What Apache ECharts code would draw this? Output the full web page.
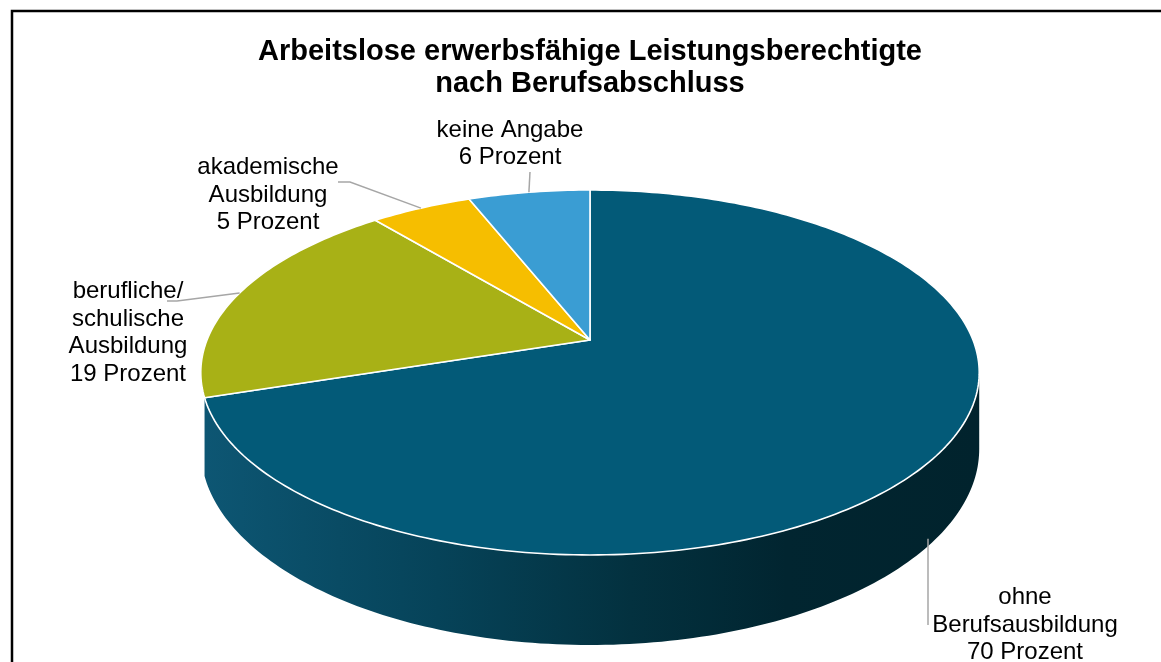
<!DOCTYPE html>
<html>
<head>
<meta charset="utf-8">
<script src="https://cdn.jsdelivr.net/npm/echarts@6/dist/echarts.min.js"></script>
<style>
  html, body { margin: 0; padding: 0; background: #fff; }
  #chart { width: 1161px; height: 662px; }
</style>
</head>
<body>
<div id="chart"></div>
<script>
// data, in clockwise order from 12 o'clock
var categories = ['ohne\nBerufsausbildung', 'berufliche/\nschulische\nAusbildung', 'akademische\nAusbildung', 'keine Angabe'];
var percentValues = [70, 19, 5, 6];
var unitText = 'Prozent';
var chartTitle = 'Arbeitslose erwerbsfähige Leistungsberechtigte\nnach Berufsabschluss';

var sliceColors = ['#035A78', '#A8B116', '#F6BE00', '#3A9DD3'];

// label text centre + end of leader line next to the text
var labelLayout = [
    { x: 1025, y: 625, lx: 928, ly: 625 },
    { x: 128, y: 333, lx: 167, ly: 301, elbow: 177 },
    { x: 268, y: 195, lx: 338, ly: 182, elbow: 350 },
    { x: 510, y: 144, lx: 530, ly: 172 }
];

// perspective pie geometry
var CX = 590, CY = 340;   // centre of the top face
var A = 383, B = 176.7;   // radii
var P = 0.178;            // perspective strength
var T = 74;               // thickness
var wallFrom = Math.acos(-P) * 180 / Math.PI;   // ~100 deg
var wallTo = 360 - wallFrom;

var total = percentValues.reduce(function (s, v) { return s + v; }, 0);
var startAngles = [];
var acc = 0;
percentValues.forEach(function (v) {
    startAngles.push(acc / total * 360);
    acc += v;
});

function proj(deg, r, depth) {
    var t = deg * Math.PI / 180;
    var u = r * Math.sin(t), v = -r * Math.cos(t);
    var d = 1 - P * v;
    return [CX + A * u / d, CY + B * v / d + depth * T / d];
}

function arc(a, b, depth) {
    var pts = [];
    var n = Math.max(2, Math.ceil(Math.abs(b - a)));
    for (var k = 0; k <= n; k++) {
        pts.push(proj(a + (b - a) * k / n, 1, depth));
    }
    return pts;
}

var wallGradient = new echarts.graphic.LinearGradient(205, 0, 980, 0, [
    { offset: 0, color: '#0D5673' },
    { offset: 0.3, color: '#064359' },
    { offset: 0.55, color: '#03313F' },
    { offset: 0.75, color: '#012530' },
    { offset: 1, color: '#01232D' }
], true);

function renderItem(params, api) {
    var i = params.dataIndex;
    var val = api.value(0);
    var a = startAngles[i];
    var b = a + val / total * 360;
    var children = [];

    // side wall (front half), like excel only the big slice shows one
    var lo = Math.max(a, wallFrom), hi = Math.min(b, wallTo);
    if (i === 0 && lo < hi) {
        var wallPts = arc(lo, hi, 0).concat(arc(hi, lo, 1));
        children.push({
            type: 'polygon', z2: 10,
            shape: { points: wallPts },
            style: { fill: wallGradient, stroke: null }
        });
    }

    // top face
    var facePts = [proj(0, 0, 0)].concat(arc(a, b, 0));
    children.push({
        type: 'polygon', z2: 30,
        shape: { points: facePts },
        style: { fill: sliceColors[i], stroke: '#ffffff', lineWidth: 1.6, lineJoin: 'round' }
    });

    // leader line + label
    var mid = (a + b) / 2;
    var front = mid > wallFrom && mid < wallTo;
    var anchor = proj(mid, 1, front ? 1 : 0);
    var lay = labelLayout[i];
    if (front) anchor[0] = lay.lx;
    var line = [anchor];
    if (lay.elbow) line.push([lay.elbow, lay.ly]);
    line.push([lay.lx, lay.ly]);
    children.push({
        type: 'polyline', z2: 40,
        shape: { points: line },
        style: { stroke: '#A6A6A6', lineWidth: 1.5, fill: null }
    });
    children.push({
        type: 'text', z2: 40,
        style: {
            text: categories[i] + '\n' + val + ' ' + unitText,
            x: lay.x, y: lay.y,
            align: 'center', verticalAlign: 'middle',
            fontSize: 24, lineHeight: 27.5,
            fontFamily: 'Liberation Sans, Arial, sans-serif',
            fill: '#000000'
        }
    });

    return { type: 'group', children: children };
}

var chart = echarts.init(document.getElementById('chart'), null, { renderer: 'canvas' });
chart.setOption({
    backgroundColor: '#ffffff',
    animation: false,
    graphic: [{
        type: 'rect',
        shape: { x: 12, y: 11, width: 1200, height: 700 },
        style: { fill: null, stroke: '#000000', lineWidth: 2.5 },
        silent: true
    }, {
        // title, centred over the pie rather than the canvas
        type: 'text',
        x: 590, y: 36,
        silent: true,
        style: {
            text: chartTitle,
            align: 'center',
            verticalAlign: 'top',
            fontFamily: 'Liberation Sans, Arial, sans-serif',
            fontSize: 29,
            fontWeight: 'bold',
            lineHeight: 32,
            fill: '#000000'
        }
    }],
    series: [{
        type: 'custom',
        coordinateSystem: 'none',
        silent: true,
        renderItem: renderItem,
        data: percentValues.map(function (v) { return [v]; })
    }]
});
</script>
</body>
</html>
